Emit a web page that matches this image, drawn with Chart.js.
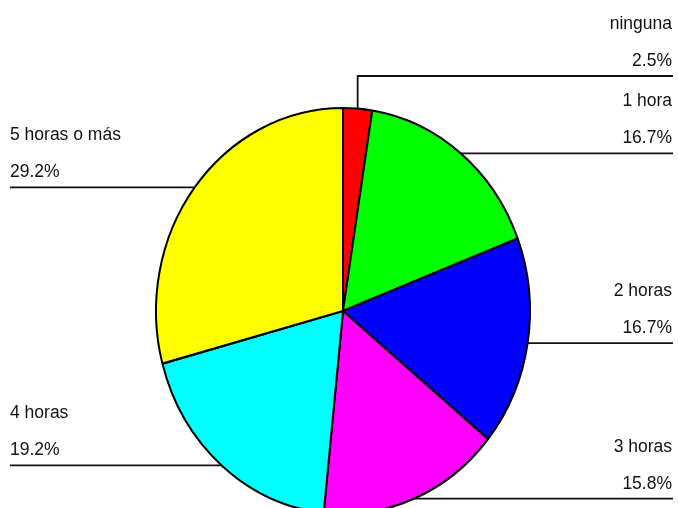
<!doctype html>
<html><head><meta charset="utf-8"/>
<title>Horas</title>
<script src="https://cdn.jsdelivr.net/npm/chart.js@4"></script>
<style>
  html,body{margin:0;padding:0;background:#fff;}
  #wrap{width:678px;height:508px;position:relative;}
</style></head><body>
<div id="wrap"><canvas id="pie" width="678" height="508"></canvas></div>
<script>
const categories = ['ninguna', '1 hora', '2 horas', '3 horas', '4 horas', '5 horas o más'];
const values = [2.5, 16.7, 16.7, 15.8, 19.2, 29.2];
const valueLabels = ['2.5%', '16.7%', '16.7%', '15.8%', '19.2%', '29.2%'];
const colors = ['#ff0000', '#00ff00', '#0000ff', '#ff00ff', '#00ffff', '#ffff00'];

// the original pie is a bit taller than wide
const STRETCH_Y = 203 / 187;
const FONT = '17.5px "Liberation Sans", Arial, Helvetica, sans-serif';

const ellipse = {
  id: 'ellipse',
  beforeDatasetsDraw(chart) {
    const a = chart.getDatasetMeta(0).data[0];
    const ctx = chart.ctx;
    ctx.save();
    ctx.translate(a.x, a.y);
    ctx.scale(1, STRETCH_Y);
    ctx.translate(-a.x, -a.y);
  },
  afterDatasetsDraw(chart) { chart.ctx.restore(); }
};

const leaders = {
  id: 'leaders',
  afterDraw(chart) {
    const ctx = chart.ctx;
    const arcs = chart.getDatasetMeta(0).data;
    const elbowY = { 0: 76 };           // "ninguna" is lifted above "1 hora"
    ctx.save();
    ctx.font = FONT;
    ctx.fillStyle = '#111';
    ctx.strokeStyle = '#111';
    ctx.lineWidth = 1.8;
    arcs.forEach((arc, i) => {
      const mid = (arc.startAngle + arc.endAngle) / 2;
      const px = arc.x + arc.outerRadius * Math.cos(mid);
      const py = arc.y + STRETCH_Y * arc.outerRadius * Math.sin(mid);
      const right = Math.cos(mid) > 0;
      const lineY = elbowY[i] !== undefined ? elbowY[i] : py;
      const edge = right ? 673 : 10;
      ctx.beginPath();
      if (elbowY[i] !== undefined) {
        ctx.moveTo(px, py);
        ctx.lineTo(px, lineY);
      } else {
        ctx.moveTo(px, lineY);
      }
      ctx.lineTo(edge, lineY);
      ctx.stroke();
      ctx.textAlign = right ? 'right' : 'left';
      ctx.textBaseline = 'alphabetic';
      const tx = right ? 672 : 10;
      ctx.fillText(valueLabels[i], tx, lineY - 10);
      ctx.fillText(categories[i], tx, lineY - 47);
    });
    ctx.restore();
  }
};

new Chart(document.getElementById('pie'), {
  type: 'pie',
  data: {
    labels: categories,
    datasets: [{
      data: values,
      backgroundColor: colors,
      borderColor: '#000',
      borderWidth: 2,
      clip: false
    }]
  },
  options: {
    responsive: false,
    animation: false,
    events: [],
    radius: 187,
    layout: { padding: { left: 156, right: 148, top: 124, bottom: 10 } },
    plugins: { legend: { display: false }, tooltip: { enabled: false } }
  },
  plugins: [ellipse, leaders]
});
</script>
</body></html>
